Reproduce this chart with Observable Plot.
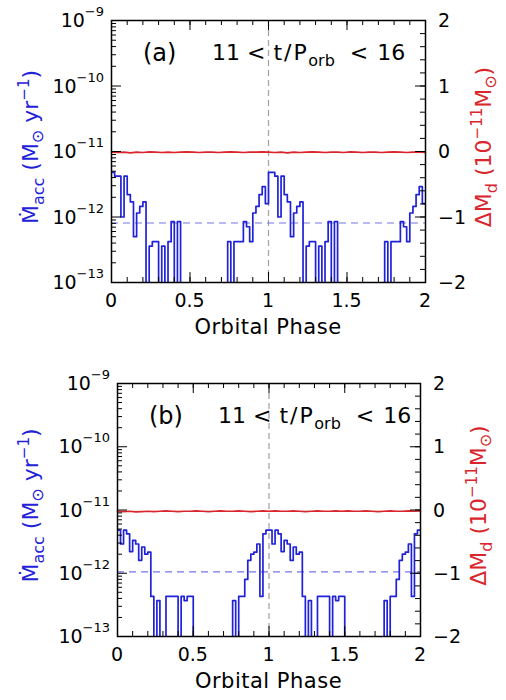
<!DOCTYPE html>
<html><head><meta charset="utf-8">
<script src="https://cdn.jsdelivr.net/npm/d3@7"></script>
<script src="https://cdn.jsdelivr.net/npm/@observablehq/plot@0.6"></script>
<style>
body{margin:0;background:#fff;}
#chart{width:506px;height:700px;}
#chart svg{display:block;}
</style></head><body><div id="chart"></div>
<script>
// ---------- data ----------
const binWidth = 0.02;
const phaseBins = d3.range(100).map(i => +(i * binWidth).toFixed(2));   // left edges, 0 .. 1.98
// accretion rate (Msun/yr) per phase bin, 0 = no accretion (below axis)
const mdotA = [
  4.8e-12,4.2e-12,4.2e-12,1.0e-12,4.2e-12,2.2e-12,1.7e-12,5.0e-13,1.15e-12,1.45e-12,
  1.7e-12,0,3.6e-13,4.2e-13,4.2e-13,0,3.6e-13,0,4.2e-13,8.5e-13,
  0,8.5e-13,0,0,0,0,0,0,0,0,
  0,0,0,0,0,0,0,4.2e-13,0,4.2e-13,
  4.2e-13,4.2e-13,8.5e-13,7.1e-13,4.2e-13,1.15e-12,1.45e-12,2.2e-12,2.9e-12,1.6e-12,
  4.8e-12,4.8e-12,4.2e-12,1.0e-12,4.2e-12,2.2e-12,1.7e-12,5.0e-13,1.15e-12,1.45e-12,
  1.7e-12,0,3.6e-13,4.2e-13,4.2e-13,0,3.6e-13,0,4.2e-13,8.5e-13,
  0,8.5e-13,0,0,0,0,0,0,0,0,
  0,0,0,0,0,0,0,4.2e-13,0,4.2e-13,
  4.2e-13,4.2e-13,8.5e-13,7.1e-13,4.2e-13,1.15e-12,1.45e-12,2.2e-12,2.9e-12,1.6e-12
];
const mdotB = [
  4.8e-12,2.9e-12,4.8e-12,4.2e-12,2.2e-12,3.3e-12,2.9e-12,1.6e-12,2.6e-12,2.0e-12,
  2.15e-12,4.3e-13,0,3.7e-13,0,0,4.3e-13,4.3e-13,4.3e-13,4.3e-13,
  0,4.3e-13,3.7e-13,4.3e-13,4.3e-13,0,0,0,0,0,
  0,0,0,0,0,0,0,0,3.7e-13,0,
  4.3e-13,4.3e-13,8.0e-13,1.6e-12,2.0e-12,2.15e-12,2.9e-12,4.3e-13,4.2e-12,4.8e-12,
  4.8e-12,2.9e-12,4.8e-12,4.2e-12,2.2e-12,3.3e-12,2.9e-12,1.6e-12,2.6e-12,2.0e-12,
  2.15e-12,4.3e-13,0,3.7e-13,0,0,4.3e-13,4.3e-13,4.3e-13,4.3e-13,
  0,4.3e-13,3.7e-13,4.3e-13,4.3e-13,0,0,0,0,0,
  0,0,0,0,0,0,0,0,3.7e-13,0,
  4.3e-13,4.3e-13,8.0e-13,1.6e-12,2.0e-12,2.15e-12,2.9e-12,4.3e-13,4.2e-12,4.8e-12
];
// disc mass change (1e-11 Msun), sampled every 0.04 in phase
const redPhases = d3.range(51).map(i => +(i * 0.04).toFixed(2));
const dMdA = [-0.01,-0.015,-0.01,-0.02,-0.01,-0.015,-0.005,-0.01,-0.015,-0.01,-0.015,-0.01,-0.005,-0.01,-0.015,-0.01,-0.01,-0.015,-0.01,-0.005,-0.01,-0.015,-0.01,-0.01,-0.005,-0.01,-0.015,-0.01,-0.02,-0.01,-0.015,-0.01,-0.005,-0.01,-0.015,-0.01,-0.01,-0.015,-0.005,-0.01,-0.015,-0.01,-0.01,-0.015,-0.01,-0.005,-0.01,-0.015,-0.01,-0.01,-0.015];
const dMdB = [-0.02,-0.025,-0.02,-0.03,-0.025,-0.02,-0.025,-0.02,-0.015,-0.02,-0.025,-0.02,-0.02,-0.015,-0.02,-0.025,-0.02,-0.015,-0.02,-0.02,-0.015,-0.02,-0.025,-0.02,-0.015,-0.02,-0.015,-0.02,-0.02,-0.015,-0.02,-0.025,-0.02,-0.015,-0.02,-0.02,-0.015,-0.02,-0.015,-0.02,-0.02,-0.015,-0.02,-0.025,-0.02,-0.015,-0.02,-0.02,-0.015,-0.02,-0.015];
const meanA = 8.1e-13, meanB = 1.05e-12;   // dashed horizontal level
// ticks
const xTickLabels = [0, 0.5, 1, 1.5, 2];
const xTickNames = ["0", "0.5", "1", "1.5", "2"];
const xMinorTicks = d3.range(21).map(i => +(i * 0.1).toFixed(1));
const yDecades = [-13, -12, -11, -10, -9];
const rightTicks = [-2, -1, 0, 1, 2];
const rightTickNames = ["\u22122", "\u22121", "0", "1", "2"];
const rightMinor = d3.range(21).map(i => +(-2 + i * 0.2).toFixed(1));

const FONT = "DejaVu Sans, sans-serif";
const BLUE = "#1f22d8", RED = "#d9262c";

function addText(svg, {x = 0, y = 0, anchor = "start", size, fill = "#000", rotate = null, spacing = 0, parts}) {
  const t = d3.select(svg).append("text")
    .attr("font-family", FONT).attr("font-size", size).attr("fill", fill)
    .attr("text-anchor", anchor).attr("letter-spacing", spacing);
  if (rotate !== null) t.attr("transform", `translate(${x},${y}) rotate(${rotate})`);
  else t.attr("x", x).attr("y", y);
  for (const p of parts) {
    const s = t.append("tspan").text(p.t);
    if (p.size) s.attr("font-size", p.size);
    if (p.dy) s.attr("dy", p.dy);
    if (p.dx) s.attr("dx", p.dx);
  }
  return t;
}

function panel({mdot, dMd, mean, tag, W = 506, H = 350, ml, mr, mt, mb}) {
  const fw = W - ml - mr, fh = H - mt - mb;
  const floor = 1e-15;
  const histo = phaseBins.map((p, i) => ({x: p, y: mdot[i] > 0 ? mdot[i] : floor}));
  histo.push({x: 2, y: histo[histo.length - 1].y});
  const red = redPhases.map((p, i) => ({x: p, y: Math.pow(10, dMd[i] - 11)}));
  const yMinor = [];
  for (const d of yDecades.slice(0, -1)) for (let k = 2; k <= 9; k++) yMinor.push(k * Math.pow(10, d));
  const yMajor = yDecades.map(d => Math.pow(10, d));
  const rMinor = rightMinor.map(v => Math.pow(10, v - 11));
  const rMajor = rightTicks.map(v => Math.pow(10, v - 11));
  const xMajor = xTickLabels;

  const svg = Plot.plot({
    width: W, height: H, marginLeft: ml, marginRight: mr, marginTop: mt, marginBottom: mb,
    style: {background: "#fff"},
    x: {domain: [0, 2], axis: null},
    y: {type: "log", domain: [1e-13, 1e-9], axis: null},
    marks: [
      Plot.ruleX([1], {stroke: "#a6a6a6", strokeWidth: 1.3, strokeDasharray: "6,4"}),
      Plot.ruleY([mean], {stroke: "#7476e6", strokeWidth: 1.2, strokeDasharray: "7,5"}),
      Plot.line(histo, {x: "x", y: "y", curve: "step-after", stroke: BLUE, strokeWidth: 1.7, clip: true}),
      Plot.line(red, {x: "x", y: "y", stroke: RED, strokeWidth: 1.7}),
      Plot.tickX(xMinorTicks, {insetTop: fh - 5, stroke: "#000"}),
      Plot.tickX(xMajor, {insetTop: fh - 10, stroke: "#000"}),
      Plot.tickX(xMinorTicks, {insetBottom: fh - 5, stroke: "#000"}),
      Plot.tickX(xMajor, {insetBottom: fh - 10, stroke: "#000"}),
      Plot.tickY(yMinor, {insetRight: fw - 5, stroke: "#000"}),
      Plot.tickY(yMajor, {insetRight: fw - 10, stroke: "#000"}),
      Plot.tickY(rMinor, {insetLeft: fw - 5, stroke: "#000"}),
      Plot.tickY(rMajor, {insetLeft: fw - 10, stroke: "#000"}),
      Plot.frame({stroke: "#000", strokeWidth: 1.5})
    ]
  });
  const sx = svg.scale("x"), sy = svg.scale("y");
  const bottom = H - mb, right = W - mr;
  // left tick labels
  yDecades.forEach(d => addText(svg, {x: ml - 7, y: sy.apply(Math.pow(10, d)), anchor: "end", size: 19,
    parts: [{t: "10", dy: "0.38em"}, {t: "\u2212" + Math.abs(d), size: 13, dy: -11}]}));
  // right tick labels
  rightTicks.forEach((v, i) => addText(svg, {x: right + 13, y: sy.apply(Math.pow(10, v - 11)), size: 19,
    parts: [{t: rightTickNames[i], dy: "0.38em"}]}));
  // x tick labels
  xTickLabels.forEach((v, i) => addText(svg, {x: sx.apply(v), y: bottom + 25, anchor: "middle", size: 19,
    parts: [{t: xTickNames[i]}]}));
  addText(svg, {x: sx.apply(1), y: bottom + 52, anchor: "middle", size: 21, spacing: 0.5, parts: [{t: "Orbital Phase"}]});
  // left axis title
  const cy = mt + fh / 2 - 4;
  addText(svg, {x: 38, y: cy, anchor: "middle", size: 22, fill: BLUE, rotate: -90, parts: [
    {t: "\u1E40"}, {t: "acc", size: 16, dy: 6}, {t: " (M", dy: -6}, {t: "\u2299", size: 16, dy: 5},
    {t: " yr", dy: -5}, {t: "\u22121", size: 15, dy: -9}, {t: ")", dy: 9}]});
  // right axis title
  addText(svg, {x: right + 66, y: cy, anchor: "middle", size: 22, fill: RED, rotate: -90, parts: [
    {t: "\u0394M"}, {t: "d", size: 16, dy: 6}, {t: " (10", dy: -6}, {t: "\u221211", size: 15, dy: -9},
    {t: "M", dy: 9}, {t: "\u2299", size: 16, dy: 5}, {t: ")", dy: -5}]});
  // in-panel annotation
  addText(svg, {x: ml + 32, y: mt + 41, size: 24, parts: [{t: tag}]});
  addText(svg, {x: ml + 101, y: mt + 40, size: 22, parts: [
    {t: "11"}, {t: "<", dx: 7}, {t: "t", dx: 8}, {t: "/", dx: 2}, {t: "P", dx: 2},
    {t: "orb", size: 16, dy: 6, dx: 1.5}, {t: "<", dx: 15, dy: -6}, {t: "16", dx: 9}]});
  return svg;
}

const root = document.getElementById("chart");
root.appendChild(panel({mdot: mdotA, dMd: dMdA, mean: meanA, tag: "(a)", ml: 111, mr: 81, mt: 20, mb: 68}));
root.appendChild(panel({mdot: mdotB, dMd: dMdB, mean: meanB, tag: "(b)", ml: 117, mr: 86, mt: 33, mb: 64}));
</script></body></html>
